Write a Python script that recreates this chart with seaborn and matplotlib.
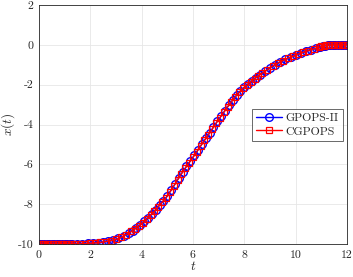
import numpy as np
import pandas as pd
import matplotlib
matplotlib.use("Agg")
import matplotlib.pyplot as plt
import seaborn as sns

# GPOPS-II solution points
t_gpops = [0.0, 0.05, 0.12, 0.2, 0.3, 0.4, 0.5, 0.6, 0.7, 0.8, 0.9, 1.0, 1.1, 1.2, 1.3,
           1.5, 1.7, 1.9, 2.1, 2.3, 2.5, 2.7, 2.9, 3.1, 3.3, 3.5, 3.65, 3.8, 3.95, 4.1,
           4.25, 4.4, 4.55, 4.7, 4.85, 5.0, 5.15, 5.3, 5.45, 5.6, 5.75, 5.9, 6.05, 6.2,
           6.35, 6.5, 6.65, 6.8, 6.95, 7.1, 7.25, 7.4, 7.55, 7.7, 7.85, 8.0, 8.15, 8.3,
           8.45, 8.6, 8.8, 9.0, 9.2, 9.4, 9.6, 9.8, 10.0, 10.2, 10.4, 10.6, 10.8, 10.95,
           11.05, 11.15, 11.25, 11.35, 11.45, 11.55, 11.65, 11.75, 11.85, 11.95, 12.0]
x_gpops = [-10.0, -10.0, -10.0, -10.0, -10.0, -10.0, -10.0, -10.0, -10.0, -10.0, -10.0,
           -10.0, -9.99, -9.99, -9.99, -9.99, -9.98, -9.97, -9.95, -9.93, -9.9, -9.86,
           -9.8, -9.72, -9.6, -9.45, -9.33, -9.18, -9.03, -8.86, -8.68, -8.48, -8.27,
           -8.05, -7.83, -7.6, -7.3, -7.0, -6.68, -6.38, -6.1, -5.83, -5.55, -5.27,
           -4.98, -4.7, -4.42, -4.13, -3.84, -3.57, -3.3, -3.03, -2.77, -2.53, -2.32,
           -2.13, -1.96, -1.8, -1.65, -1.5, -1.33, -1.15, -0.99, -0.85, -0.73, -0.62,
           -0.52, -0.42, -0.33, -0.25, -0.17, -0.1, -0.07, -0.04, -0.02, -0.01, 0.0,
           0.0, 0.0, 0.0, 0.0, 0.0, 0.0]

# CGPOPS solution points
t_cgpops = [0.0, 0.08, 0.16, 0.25, 0.35, 0.45, 0.55, 0.65, 0.75, 0.85, 0.95, 1.05, 1.15,
            1.25, 1.4, 1.6, 1.8, 2.0, 2.2, 2.4, 2.6, 2.8, 3.0, 3.2, 3.4, 3.6, 3.75, 3.9,
            4.05, 4.2, 4.35, 4.5, 4.65, 4.8, 4.95, 5.1, 5.25, 5.4, 5.55, 5.7, 5.85, 6.0,
            6.15, 6.3, 6.45, 6.6, 6.75, 6.9, 7.05, 7.2, 7.35, 7.5, 7.65, 7.8, 7.95, 8.1,
            8.25, 8.4, 8.55, 8.7, 8.9, 9.1, 9.3, 9.5, 9.7, 9.9, 10.1, 10.3, 10.5, 10.7,
            10.9, 11.0, 11.1, 11.2, 11.3, 11.4, 11.5, 11.6, 11.7, 11.8, 11.9, 12.0]
x_cgpops = [-10.0, -10.0, -10.0, -10.0, -10.0, -10.0, -10.0, -10.0, -10.0, -10.0, -10.0,
            -10.0, -9.99, -9.99, -9.99, -9.99, -9.98, -9.96, -9.94, -9.92, -9.88, -9.83,
            -9.77, -9.67, -9.53, -9.37, -9.23, -9.08, -8.92, -8.74, -8.55, -8.35, -8.13,
            -7.91, -7.68, -7.4, -7.1, -6.78, -6.48, -6.19, -5.92, -5.65, -5.37, -5.08,
            -4.8, -4.52, -4.23, -3.94, -3.66, -3.39, -3.12, -2.85, -2.61, -2.39, -2.19,
            -2.02, -1.85, -1.7, -1.55, -1.42, -1.25, -1.07, -0.92, -0.79, -0.67, -0.57,
            -0.47, -0.37, -0.29, -0.21, -0.13, -0.08, -0.05, -0.03, -0.015, -0.005, 0.0,
            0.0, 0.0, 0.0, 0.0, 0.0]

x_ticks = [0, 2, 4, 6, 8, 10, 12]
y_ticks = [-10, -8, -6, -4, -2, 0, 2]

sns.set_theme(style="whitegrid", rc={
    "grid.color": "#e6e6e6",
    "grid.linewidth": 0.6,
    "axes.edgecolor": "#262626",
    "axes.linewidth": 0.6,
})
plt.rcParams["font.family"] = ["cmr10", "DejaVu Serif"]
plt.rcParams["mathtext.fontset"] = "cm"
plt.rcParams["axes.unicode_minus"] = False
plt.rcParams["axes.formatter.use_mathtext"] = False

df_g = pd.DataFrame({"t": t_gpops, "x": x_gpops})
df_c = pd.DataFrame({"t": t_cgpops, "x": x_cgpops})

fig = plt.figure(figsize=(3.53, 2.77), dpi=100)
ax = fig.add_axes([0.11, 0.119, 0.873, 0.863])

sns.lineplot(data=df_g, x="t", y="x", ax=ax, color="#0000ff", lw=1.0,
             marker="o", markersize=5.5, markerfacecolor="none",
             markeredgecolor="#0000ff", markeredgewidth=1.0, label="GPOPS-II",
             sort=False)
sns.lineplot(data=df_c, x="t", y="x", ax=ax, color="#ff0000", lw=1.0,
             marker="s", markersize=3.8, markerfacecolor="none",
             markeredgecolor="#ff0000", markeredgewidth=0.9, label="CGPOPS",
             sort=False)

ax.set_xlim(0, 12)
ax.set_ylim(-10, 2)
ax.set_xticks(x_ticks)
ax.set_yticks(y_ticks)
ax.set_xticklabels([str(v) for v in x_ticks])
ax.set_yticklabels([str(v) for v in y_ticks])
ax.tick_params(axis="both", labelsize=8.5, colors="#262626", direction="in",
               length=2.5, width=0.5)
ax.tick_params(axis="x", pad=5)
ax.tick_params(axis="y", pad=4)
ax.set_xlabel("$t$", fontsize=9.5, labelpad=0)
ax.set_ylabel("$x(t)$", fontsize=9.5)
ax.yaxis.set_label_coords(-0.07, 0.5)

for s in ax.spines.values():
    s.set_visible(True)
    s.set_color("#262626")

leg = ax.legend(loc="upper right", bbox_to_anchor=(0.995, 0.575), fontsize=8.5,
                frameon=True, fancybox=False, edgecolor="#262626",
                handlelength=2.2, handletextpad=0.3, borderpad=0.35,
                labelspacing=0.25, borderaxespad=0.2)
leg.get_frame().set_linewidth(0.6)

fig.savefig("out.png", dpi=100)
